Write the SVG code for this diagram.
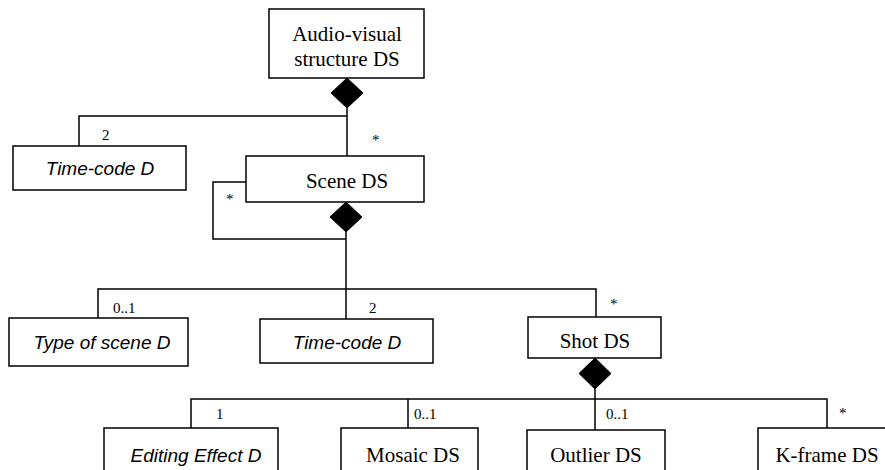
<svg xmlns="http://www.w3.org/2000/svg" width="885" height="470" viewBox="0 0 885 470">
<style>
.box{fill:#fff;stroke:#000;stroke-width:1.5}
.ds{font-family:"Liberation Serif","Times New Roman",serif;font-size:21px;text-anchor:middle;fill:#000}
.d{font-family:"Liberation Sans",Arial,sans-serif;font-size:19px;font-style:italic;text-anchor:middle;fill:#000}
.m{font-family:"Liberation Serif","Times New Roman",serif;font-size:15px;fill:#000}
.ln{fill:none;stroke:#000;stroke-width:1.5}
.dia{fill:#000;stroke:#000;stroke-width:1}
</style>
<rect width="885" height="470" fill="#fff"/>
<g id="connectors">
<polyline class="ln" points="347,108 347,156"/>
<polyline class="ln" points="79,146 79,116 347,116"/>
<polyline class="ln" points="246,182 213,182 213,239 346,239"/>
<polyline class="ln" points="346,232 346,319"/>
<polyline class="ln" points="98,318 98,289 596,289 596,317"/>
<polyline class="ln" points="595,389 595,430"/>
<polyline class="ln" points="191,428 191,399 827,399 827,428"/>
<polyline class="ln" points="408,399 408,428"/>
<polygon class="dia" points="347,78 363,93 347,108 331,93"/>
<polygon class="dia" points="346,202 362,217 346,232 330,217"/>
<polygon class="dia" points="595,358 611,373.5 595,389 579,373.5"/>
<text class="m" x="102" y="140">2</text>
<text class="m" x="372" y="145">*</text>
<text class="m" x="226" y="204">*</text>
<text class="m" x="113" y="313">0..1</text>
<text class="m" x="369" y="313">2</text>
<text class="m" x="610" y="309">*</text>
<text class="m" x="216" y="419">1</text>
<text class="m" x="414" y="419">0..1</text>
<text class="m" x="606" y="419">0..1</text>
<text class="m" x="839" y="418">*</text>
</g>
<g id="audio-visual">
<rect class="box" x="269" y="9" width="155" height="69"/>
<text class="ds" x="347" y="41">Audio-visual</text>
<text class="ds" x="347" y="66">structure DS</text>
</g>
<g id="timecode1">
<rect class="box" x="13" y="146" width="173" height="44"/>
<text class="d" x="100" y="175">Time-code D</text>
</g>
<g id="scene">
<rect class="box" x="246" y="156" width="178" height="46"/>
<text class="ds" x="347" y="188">Scene DS</text>
</g>
<g id="typeofscene">
<rect class="box" x="9" y="318" width="179" height="48"/>
<text class="d" x="102" y="349">Type of scene D</text>
</g>
<g id="timecode2">
<rect class="box" x="260" y="319" width="173" height="44"/>
<text class="d" x="347" y="349">Time-code D</text>
</g>
<g id="shot">
<rect class="box" x="528" y="317" width="133" height="41"/>
<text class="ds" x="595" y="348">Shot DS</text>
</g>
<g id="editing">
<rect class="box" x="104" y="428" width="174" height="60"/>
<text class="d" x="196" y="462">Editing Effect D</text>
</g>
<g id="mosaic">
<rect class="box" x="341" y="428" width="137" height="60"/>
<text class="ds" x="413" y="462">Mosaic DS</text>
</g>
<g id="outlier">
<rect class="box" x="527" y="430" width="138" height="60"/>
<text class="ds" x="596" y="462">Outlier DS</text>
</g>
<g id="kframe">
<rect class="box" x="758" y="428" width="140" height="60"/>
<text class="ds" x="827" y="462">K-frame DS</text>
</g>
</svg>
